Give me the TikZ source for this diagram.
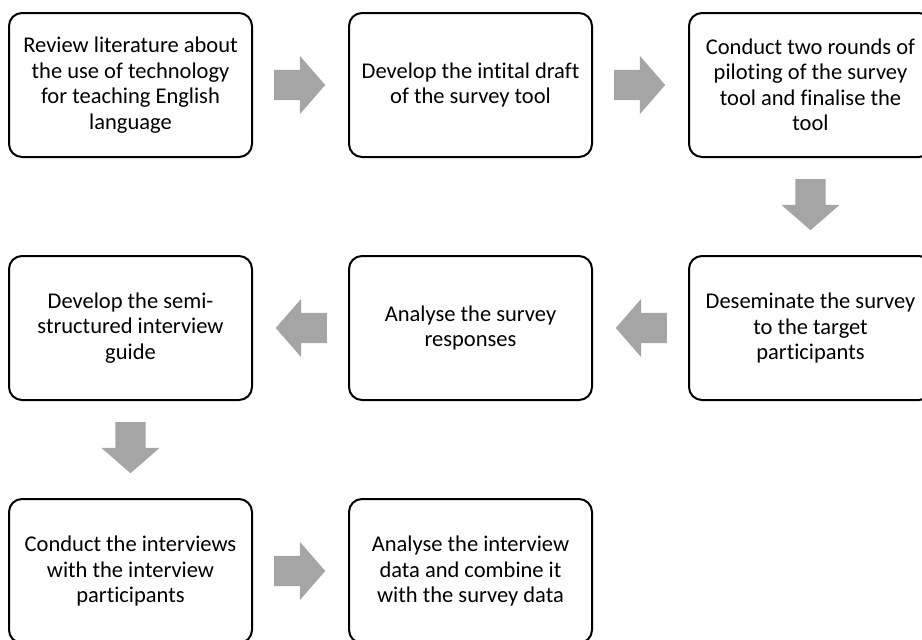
\documentclass[tikz,border=0pt]{standalone}
\usepackage{fontspec}
\setmainfont[Ligatures=NoCommon]{Carlito}
\usepackage{xcolor}
\usetikzlibrary{positioning,calc,shapes.arrows}
\definecolor{arrowgray}{HTML}{A5A5A5}

\begin{document}
\begin{tikzpicture}[
  x=1pt, y=1pt,
  node distance=99pt and 97pt,
  stepbox/.style={draw, line width=2pt, rounded corners=13pt, align=center,
                  minimum width=243pt, minimum height=144pt, inner sep=4pt,
                  outer sep=0pt, font=\fontsize{22.5}{25.5}\selectfont},
  flow/.style={single arrow, fill=arrowgray, draw=none, inner sep=15pt,
               minimum height=51pt, single arrow head extend=14pt,
               single arrow tip angle=98, anchor=tail}
]
  \useasboundingbox (0,0) rectangle (922,-640);
  \node[stepbox] (review) at (130.5,-85) {Review literature about\\the use of technology\\for teaching English\\language};
  \node[stepbox, right=of review] (draft) {Develop the intital draft\\of the survey tool};
  \node[stepbox, right=of draft] (pilot) {Conduct two rounds of\\piloting of the survey\\tool and finalise the\\tool};
  \node[stepbox, below=of pilot] (spread) {Deseminate the survey\\to the target\\participants};
  \node[stepbox, left=of spread] (analyse) {Analyse the survey\\responses};
  \node[stepbox, left=of analyse] (guide) {Develop the semi-\\structured interview\\guide};
  \node[stepbox, below=of guide] (interview) {Conduct the interviews\\with the interview\\participants};
  \node[stepbox, right=of interview] (combine) {Analyse the interview\\data and combine it\\with the survey data};
  % block arrows between the steps
  \node[flow] (r1) at ($(review.east)+(22,0)$) {};
  \node[flow] (r2) at ($(draft.east)+(22,0)$) {};
  \node[flow, shape border rotate=270] (d1) at ($(pilot.south)+(0,-22)$) {};
  \node[flow, shape border rotate=180] (l1) at ($(spread.west)+(-22,0)$) {};
  \node[flow, shape border rotate=180] (l2) at ($(analyse.west)+(-22,0)$) {};
  \node[flow, shape border rotate=270] (d2) at ($(guide.south)+(0,-22)$) {};
  \node[flow] (r3) at ($(interview.east)+(22,0)$) {};
\end{tikzpicture}
\end{document}
